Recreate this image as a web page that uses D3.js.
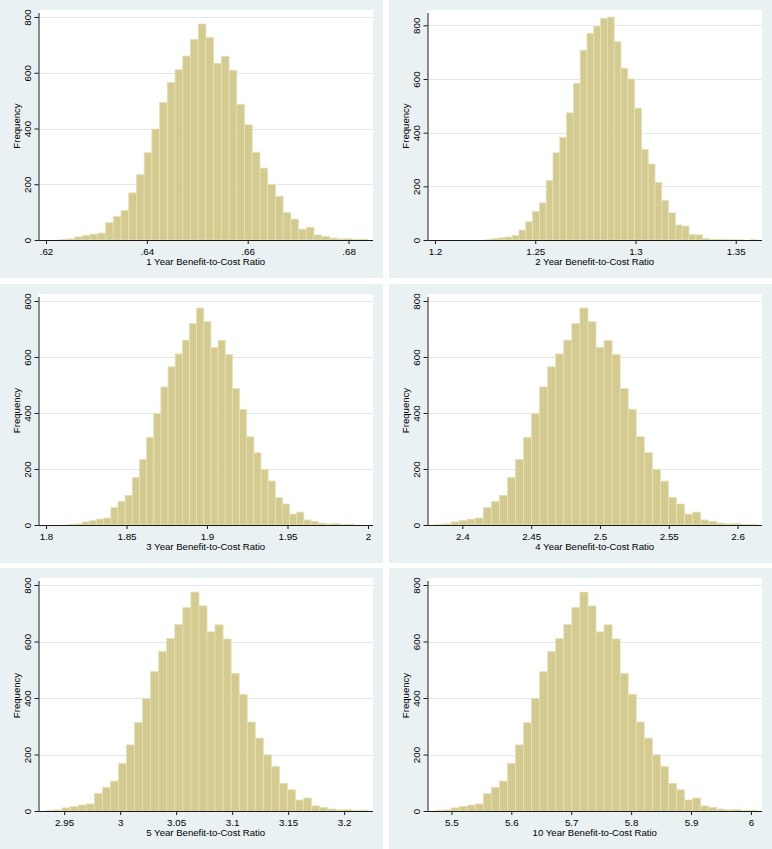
<!DOCTYPE html>
<html>
<head>
<meta charset="utf-8">
<script src="https://cdn.jsdelivr.net/npm/d3@7"></script>
<style>
  body { margin: 0; background: #ffffff; }
  svg { display: block; }
  text { font-family: "Liberation Sans", Arial, Helvetica, sans-serif; fill: #000; }
</style>
</head>
<body>
<svg id="chart" width="772" height="849"></svg>
<script>
// ---------------- DATA ----------------
// Frequencies per bin (40 bins). Panels 1,3,4,5,6 share the same simulated draws.
const countsShared = [2, 4, 11, 16, 21, 25, 62, 84, 106, 169, 234, 313, 398, 493, 565, 611, 660, 720, 775, 726,
                      634, 659, 609, 487, 413, 315, 258, 199, 157, 98, 75, 39, 46, 18, 13, 7, 4, 5, 2, 3];
const counts2Year  = [1, 5, 8, 11, 17, 37, 68, 107, 138, 222, 325, 383, 474, 584, 707, 770, 797, 826, 831, 739,
                      640, 600, 491, 338, 283, 214, 147, 101, 56, 52, 21, 19, 5, 2, 2, 3, 1, 1, 0, 1];
const panelTitles = ["1 Year Benefit-to-Cost Ratio", "2 Year Benefit-to-Cost Ratio",
                     "3 Year Benefit-to-Cost Ratio", "4 Year Benefit-to-Cost Ratio",
                     "5 Year Benefit-to-Cost Ratio", "10 Year Benefit-to-Cost Ratio"];
const binStarts = [0.62263, 1.22493, 1.81364, 2.3801, 2.9338, 5.4726];
const binWidths = [0.0015307, 0.003392, 0.004440, 0.0058512, 0.0071875, 0.013438];
const xTicks = [
  [0.62, 0.64, 0.66, 0.68],
  [1.2, 1.25, 1.3, 1.35],
  [1.8, 1.85, 1.9, 1.95, 2],
  [2.4, 2.45, 2.5, 2.55, 2.6],
  [2.95, 3, 3.05, 3.1, 3.15, 3.2],
  [5.5, 5.6, 5.7, 5.8, 5.9, 6]
];
const xTickLabels = [
  [".62", ".64", ".66", ".68"],
  ["1.2", "1.25", "1.3", "1.35"],
  ["1.8", "1.85", "1.9", "1.95", "2"],
  ["2.4", "2.45", "2.5", "2.55", "2.6"],
  ["2.95", "3", "3.05", "3.1", "3.15", "3.2"],
  ["5.5", "5.6", "5.7", "5.8", "5.9", "6"]
];
const yTicks = [0, 200, 400, 600, 800];
const yTitle = "Frequency";

// ---------------- LAYOUT ----------------
const colX = [0, 389], colW = 383;
const rowY = [0, 284, 568], rowH = [278, 279, 281];
const BG = "#e9f1f3", GRID = "#dfe8ec", BAR = "#d5cc8e", BAR_EDGE = "#e6e1b6", AXIS = "#1a1a1a";

const svg = d3.select("#chart");

// dotted bar texture (as in the reference's dithered fill)
const pat = svg.append("defs").append("pattern")
  .attr("id", "barFill").attr("patternUnits", "userSpaceOnUse")
  .attr("width", 4).attr("height", 4);
pat.append("rect").attr("width", 4).attr("height", 4).attr("fill", BAR);
pat.append("rect").attr("x", 1).attr("y", 1).attr("width", 1).attr("height", 1).attr("fill", "#a9abb8").attr("opacity", 0.55);
pat.append("rect").attr("x", 3).attr("y", 3).attr("width", 1).attr("height", 1).attr("fill", "#a9abb8").attr("opacity", 0.35);

panelTitles.forEach((title, p) => {
  const col = p % 2, row = Math.floor(p / 2);
  const W = colW, H = rowH[row];
  const g = svg.append("g").attr("transform", `translate(${colX[col]},${rowY[row]})`);
  const counts = p === 1 ? counts2Year : countsShared;

  const L = 38.5, R = W - 10;
  const bottom = H - 38, top = 17;

  const dMin = binStarts[p], dMax = binStarts[p] + counts.length * binWidths[p];
  const ticks = xTicks[p];
  const x = d3.scaleLinear()
    .domain([Math.min(ticks[0], dMin), Math.max(ticks[ticks.length - 1], dMax)])
    .range([L + 7.5, R - 5]);
  const y = d3.scaleLinear()
    .domain([0, Math.max(800, d3.max(counts))])
    .range([bottom, top]);

  // backgrounds
  g.append("rect").attr("x", 0).attr("y", 0).attr("width", W).attr("height", H).attr("fill", BG);
  g.append("rect").attr("x", L).attr("y", top - 7).attr("width", R - L).attr("height", bottom - top + 7)
    .attr("fill", "#ffffff");

  // gridlines
  g.append("g").selectAll("line").data(yTicks.filter(d => d > 0)).join("line")
    .attr("x1", L).attr("x2", R)
    .attr("y1", d => Math.round(y(d)) + 0.5).attr("y2", d => Math.round(y(d)) + 0.5)
    .attr("stroke", GRID).attr("stroke-width", 1);

  // bars
  g.append("g").selectAll("rect").data(counts.map((c, i) => ({ c, x0: dMin + i * binWidths[p], x1: dMin + (i + 1) * binWidths[p] })))
    .join("rect")
    .filter(d => d.c > 0)
    .attr("x", d => x(d.x0))
    .attr("width", d => x(d.x1) - x(d.x0))
    .attr("y", d => y(d.c))
    .attr("height", d => bottom - y(d.c))
    .attr("fill", "url(#barFill)")
    .attr("stroke", BAR_EDGE)
    .attr("stroke-width", 0.8);

  // x axis
  const xAxis = d3.axisBottom(x).tickValues(ticks).tickFormat((d, i) => xTickLabels[p][i])
    .tickSize(4).tickSizeOuter(0);
  const xg = g.append("g").attr("transform", `translate(0,${bottom})`).call(xAxis);
  xg.select(".domain").remove();
  xg.selectAll(".tick line").attr("stroke", AXIS);
  xg.selectAll(".tick text").attr("y", 15).attr("dy", null)
    .style("font-size", "9.8px").style("font-family", '"Liberation Sans", Arial, sans-serif').attr("fill", "#000");
  g.append("line").attr("x1", L).attr("x2", R).attr("y1", bottom + 0.5).attr("y2", bottom + 0.5)
    .attr("stroke", AXIS).attr("stroke-width", 1);

  // y axis
  const yAxis = d3.axisLeft(y).tickValues(yTicks).tickSize(4).tickSizeOuter(0).tickFormat(d3.format("d"));
  const yg = g.append("g").attr("transform", `translate(${L},0)`).call(yAxis);
  yg.select(".domain").remove();
  yg.selectAll(".tick line").attr("stroke", AXIS);
  yg.selectAll(".tick text")
    .attr("x", null).attr("dy", null)
    .attr("text-anchor", "middle")
    .attr("transform", "translate(-8,0) rotate(-90)")
    .style("font-size", "9.8px").style("font-family", '"Liberation Sans", Arial, sans-serif').attr("fill", "#000");
  g.append("line").attr("x1", L + 0.5).attr("x2", L + 0.5).attr("y1", top - 4).attr("y2", bottom + 0.5)
    .attr("stroke", AXIS).attr("stroke-width", 1);

  // titles
  g.append("text").attr("x", (L + R) / 2).attr("y", bottom + 25).attr("text-anchor", "middle")
    .style("font-size", "9.6px").text(title);
  g.append("text").attr("text-anchor", "middle")
    .attr("transform", `translate(19.5,${(bottom + top - 5) / 2}) rotate(-90)`)
    .style("font-size", "9.6px").text(yTitle);
});
</script>
</body>
</html>
